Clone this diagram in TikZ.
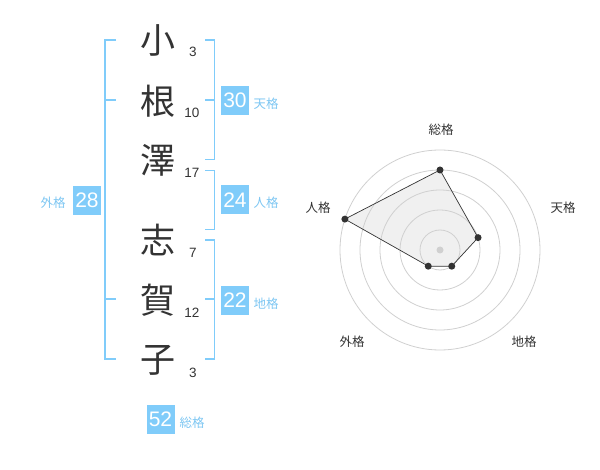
\documentclass[tikz,border=0pt]{standalone}
\usepackage{fontspec}
\setmainfont{Liberation Sans}
\newfontfamily\jp{Noto Sans CJK JP}
\definecolor{kblue}{RGB}{128,204,250}
\definecolor{klabel}{RGB}{125,198,242}
\definecolor{kdark}{RGB}{51,51,51}
\definecolor{kgrid}{RGB}{208,208,208}
\begin{document}
\begin{tikzpicture}[x=1pt,y=-1pt,
  bigchar/.style={inner sep=0pt, text=kdark, font=\jp\fontsize{35}{35}\selectfont},
  strokes/.style={inner sep=0pt, text=kdark, font=\fontsize{13.5}{13.5}\selectfont},
  kbox/.style={fill=kblue, text=white, inner sep=0pt, minimum width=28pt, minimum height=29pt, font=\fontsize{21}{21}\selectfont},
  klab/.style={inner sep=0pt, text=klabel, font=\jp\fontsize{12.5}{12.5}\selectfont},
  brk/.style={draw=kblue, line width=1.8pt},
  ring/.style={draw=kgrid, line width=0.8pt},
  rlab/.style={inner sep=0pt, text=kdark, font=\jp\fontsize{12.5}{12.5}\selectfont},
  dot/.style={circle, fill=kdark, inner sep=0pt, minimum size=7pt}
]
\useasboundingbox (0,0) rectangle (600,470);

% name characters
\node[bigchar] (c1) at (158,40) {小};
\node[bigchar] (c2) at (158,101) {根};
\node[bigchar] (c3) at (158,160) {澤};
\node[bigchar] (c4) at (158,240) {志};
\node[bigchar] (c5) at (158,300) {賀};
\node[bigchar] (c6) at (158,360) {子};
% stroke counts
\node[strokes] (s1) at (193,52) {3};
\node[strokes] (s2) at (192,113) {10};
\node[strokes] (s3) at (192,173) {17};
\node[strokes] (s4) at (193,253) {7};
\node[strokes] (s5) at (192,313) {12};
\node[strokes] (s6) at (193,373) {3};

% brackets
\coordinate (la) at (116,40); \coordinate (lb) at (105,40);
\coordinate (lc) at (105,359); \coordinate (ld) at (116,359);
\draw[brk] (la) -- (lb) -- (lc) -- (ld);
\coordinate (lt1a) at (105,100); \coordinate (lt1b) at (116,100);
\coordinate (lt2a) at (105,299); \coordinate (lt2b) at (116,299);
\draw[brk] (lt1a) -- (lt1b);
\draw[brk] (lt2a) -- (lt2b);

\coordinate (ta) at (205,40); \coordinate (tb) at (214.5,40);
\coordinate (tc) at (214.5,159.5); \coordinate (td) at (205,159.5);
\draw[brk] (ta) -- (tb) -- (tc) -- (td);
\coordinate (tt1) at (205,100); \coordinate (tt2) at (214.5,100);
\draw[brk] (tt1) -- (tt2);

\coordinate (ja) at (205,170.5); \coordinate (jb) at (214.5,170.5);
\coordinate (jc) at (214.5,229.5); \coordinate (jd) at (205,229.5);
\draw[brk] (ja) -- (jb) -- (jc) -- (jd);

\coordinate (ca) at (205,240); \coordinate (cb) at (214.5,240);
\coordinate (cc) at (214.5,359); \coordinate (cd) at (205,359);
\draw[brk] (ca) -- (cb) -- (cc) -- (cd);
\coordinate (ct1) at (205,299); \coordinate (ct2) at (214.5,299);
\draw[brk] (ct1) -- (ct2);

% boxes and labels
\node[kbox] (b28) at (87,200.5) {28};
\node[klab] (l28) at (53,203) {外格};
\node[kbox] (b30) at (235,100.5) {30};
\node[klab] (l30) at (266,104) {天格};
\node[kbox] (b24) at (235,200) {24};
\node[klab] (l24) at (266,203) {人格};
\node[kbox] (b22) at (235,300.5) {22};
\node[klab] (l22) at (266,304) {地格};
\node[kbox] (b52) at (160.5,419.5) {52};
\node[klab] (l52) at (192,423) {総格};

% radar chart
\coordinate (ctr) at (440,250);
\coordinate (p1) at ([shift={(90:80pt)}]ctr);
\coordinate (p2) at ([shift={(18:40pt)}]ctr);
\coordinate (p3) at ([shift={(-54:20pt)}]ctr);
\coordinate (p4) at ([shift={(-126:20pt)}]ctr);
\coordinate (p5) at ([shift={(162:100pt)}]ctr);
\fill[black!6] (p1) -- (p2) -- (p3) -- (p4) -- (p5) -- cycle;
\foreach \r in {20,40,60,80,100} \draw[ring] (ctr) circle[radius=\r pt];
\draw[kdark, line width=0.7pt] (p1) -- (p2) -- (p3) -- (p4) -- (p5) -- cycle;
\node[circle, fill=kgrid, inner sep=0pt, minimum size=7pt] (cdot) at (ctr) {};
\foreach \p in {p1,p2,p3,p4,p5} \node[dot] at (\p) {};
\node[rlab] (r1) at (441,130) {総格};
\node[rlab] (r2) at (563,208) {天格};
\node[rlab] (r3) at (318,208) {人格};
\node[rlab] (r4) at (352,342) {外格};
\node[rlab] (r5) at (524,342) {地格};
\end{tikzpicture}
\end{document}
